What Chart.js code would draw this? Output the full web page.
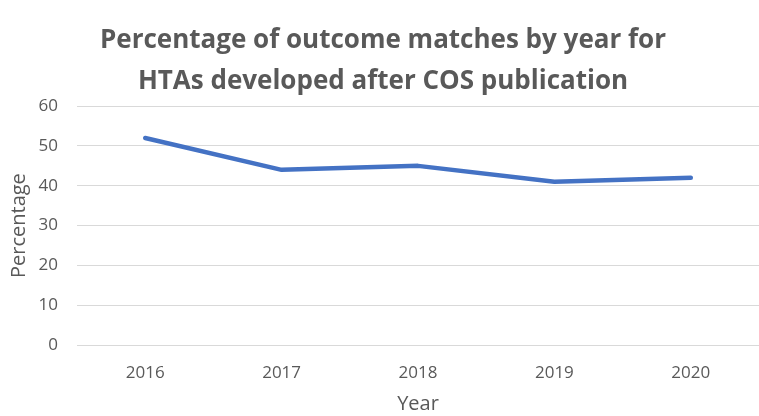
<!DOCTYPE html>
<html>
<head>
<meta charset="utf-8">
<script src="https://cdn.jsdelivr.net/npm/chart.js@4"></script>
<style>
  html, body { margin: 0; padding: 0; background: #fff; }
  #wrap { width: 759px; height: 416px; }
</style>
</head>
<body>
<div id="wrap"><canvas id="line-chart"></canvas></div>
<script>
const years = ["2016", "2017", "2018", "2019", "2020"];
const matchPct = [52, 44, 45, 41, 42];
const titleLines = ["Percentage of outcome matches by year for", "HTAs developed after COS publication"];

const grey = "#595959";

new Chart(document.getElementById("line-chart"), {
    type: "line",
    data: {
        labels: years,
        datasets: [
            {
                data: matchPct,
                borderColor: "#4472C4",
                borderWidth: 4.5,
                pointRadius: 0,
                tension: 0,
                borderCapStyle: "round",
                borderJoinStyle: "round",
            },
        ],
    },
    options: {
        responsive: true,
        maintainAspectRatio: false,
        animation: false,
        layout: { padding: { left: 7, right: 0, top: 0, bottom: 0 } },
        plugins: {
            legend: { display: false },
            tooltip: { enabled: false },
            title: {
                display: true,
                text: titleLines,
                color: grey,
                font: { family: "Open Sans", size: 26, weight: "bold", lineHeight: 1.58 },
                padding: { top: 20, bottom: 4 },
            },
        },
        scales: {
            x: {
                offset: true,
                grid: { display: false },
                border: { color: "#d9d9d9", width: 1 },
                ticks: {
                    color: grey,
                    font: { family: "Open Sans", size: 17 },
                    padding: 10,
                    maxRotation: 0,
                },
                title: {
                    display: true,
                    text: "Year",
                    color: grey,
                    font: { family: "Open Sans", size: 20 },
                    padding: { top: 10, bottom: 0 },
                },
                afterFit: (scale) => { scale.height = 71; },
            },
            y: {
                min: 0,
                max: 60,
                ticks: {
                    stepSize: 10,
                    color: grey,
                    font: { family: "Open Sans", size: 17 },
                    padding: 19,
                },
                grid: { color: "#d9d9d9", drawTicks: false },
                border: { display: false },
                title: {
                    display: true,
                    text: "Percentage",
                    color: grey,
                    font: { family: "Open Sans", size: 20 },
                    padding: { top: 0, bottom: 0 },
                },
                afterFit: (scale) => { scale.width = 70; },
            },
        },
    },
});
</script>
</body>
</html>
